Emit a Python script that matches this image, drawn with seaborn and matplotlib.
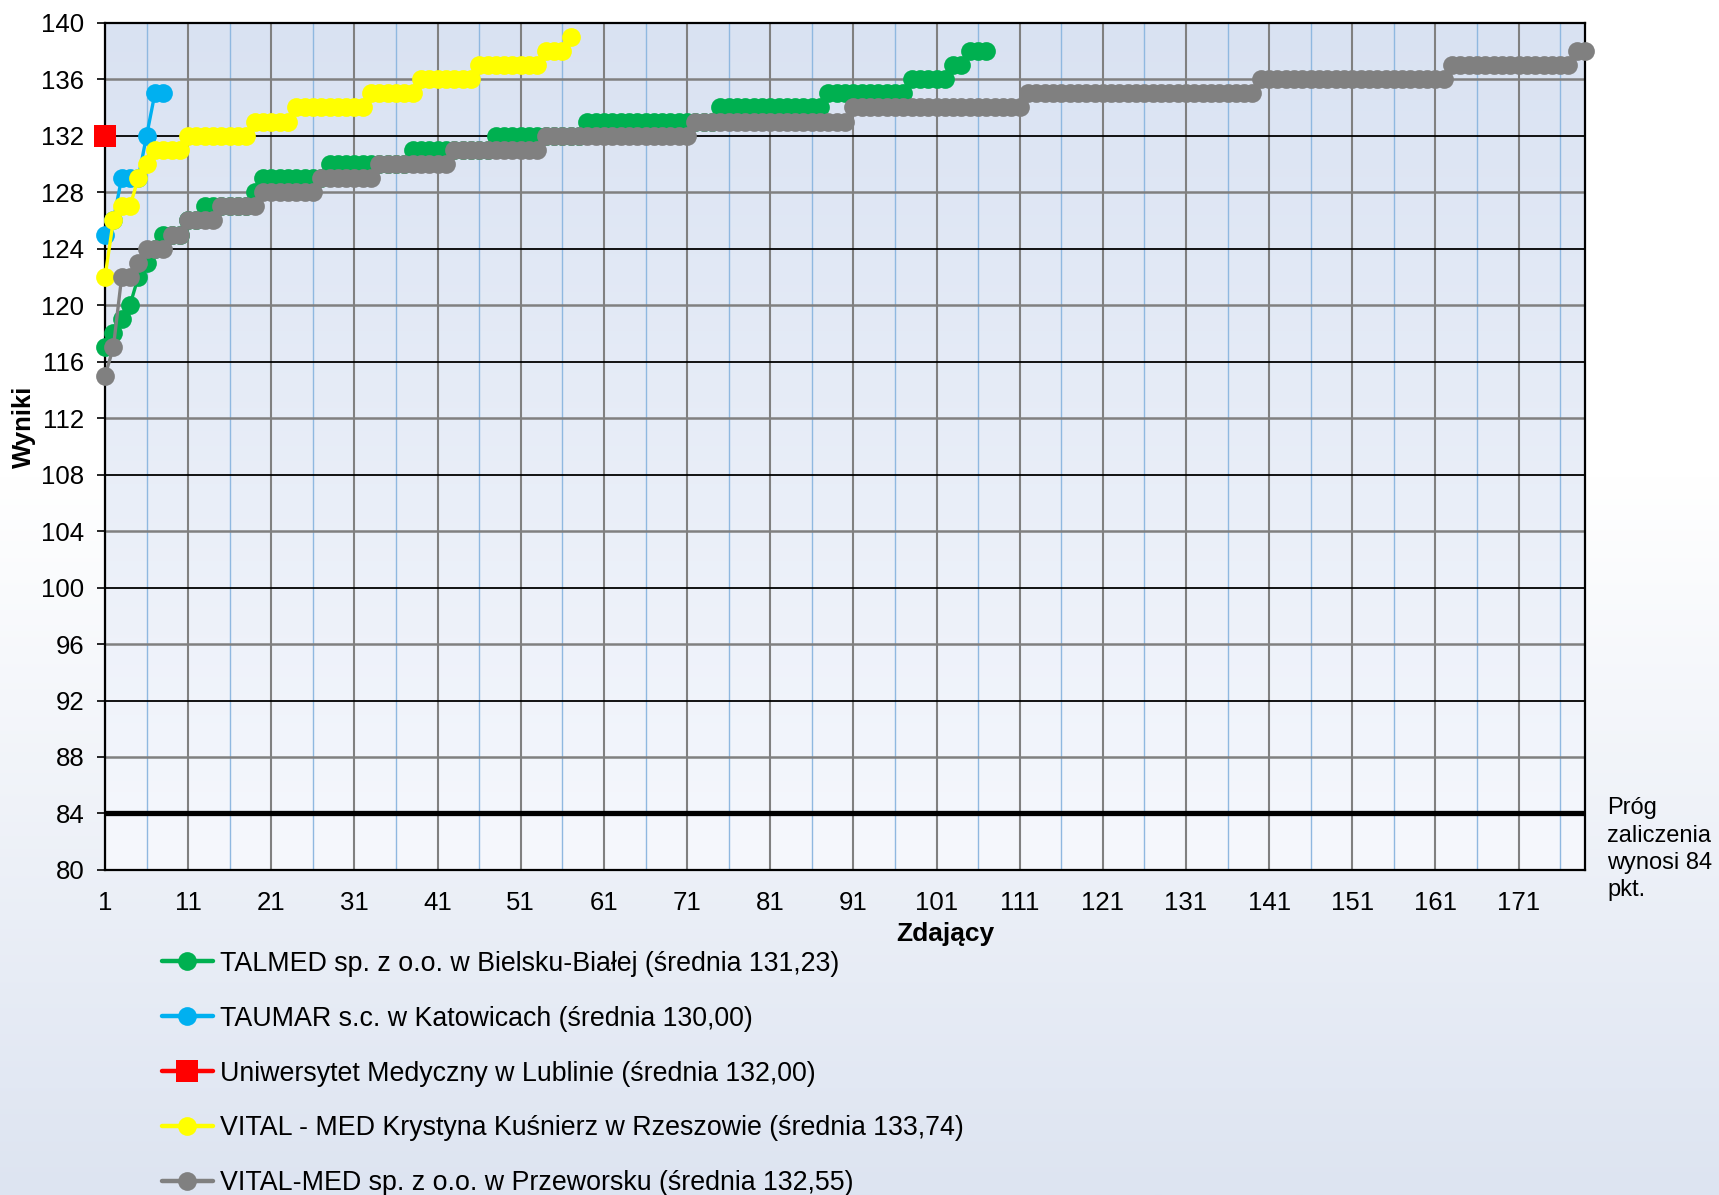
import numpy as np
import pandas as pd
import matplotlib
matplotlib.use("Agg")
import matplotlib.pyplot as plt
import seaborn as sns
from matplotlib.ticker import FixedLocator, FuncFormatter

# Scores (sorted ascending): score level + how many candidates
talmed_levels = [117, 118, 119, 120, 122, 123, 124, 125, 126, 127, 128, 129, 130,
                 131, 132, 133, 134, 135, 136, 137, 138]
talmed_counts = [1, 1, 1, 1, 1, 1, 1, 3, 2, 6, 1, 8, 10, 10, 11, 16, 13, 10, 5, 2, 3]

taumar_scores = [125, 126, 129, 129, 129, 132, 135, 135]

umlub_scores = [132]

vital_rz_levels = [122, 126, 127, 129, 130, 131, 132, 133, 134, 135, 136, 137, 138, 139]
vital_rz_counts = [1, 1, 2, 1, 1, 4, 8, 5, 9, 6, 7, 8, 3, 1]

vital_prz_levels = [115, 117, 122, 123, 124, 125, 126, 127, 128, 129, 130, 131, 132,
                    133, 134, 135, 136, 137, 138]
vital_prz_counts = [1, 1, 2, 1, 3, 2, 4, 5, 7, 7, 9, 11, 18, 19, 21, 28, 23, 15, 2]

series_labels = [
    "TALMED sp. z o.o. w Bielsku-Białej (średnia 131,23)",
    "TAUMAR s.c. w Katowicach (średnia 130,00)",
    "Uniwersytet Medyczny w Lublinie (średnia 132,00)",
    "VITAL - MED Krystyna Kuśnierz w Rzeszowie (średnia 133,74)",
    "VITAL-MED sp. z o.o. w Przeworsku (średnia 132,55)",
]
series_colors = ["#00b050", "#00b0f0", "#ff0000", "#ffff00", "#808080"]
series_markers = ["o", "o", "s", "o", "o"]

threshold = 84
n_max = 179
x_ticks = list(range(1, 172, 10))
y_ticks = list(range(80, 141, 4))


def to_frame(scores):
    return pd.DataFrame({"Zdający": np.arange(1, len(scores) + 1), "Wynik": scores})


frames = [
    to_frame(np.repeat(talmed_levels, talmed_counts)),
    to_frame(taumar_scores),
    to_frame(umlub_scores),
    to_frame(np.repeat(vital_rz_levels, vital_rz_counts)),
    to_frame(np.repeat(vital_prz_levels, vital_prz_counts)),
]

sns.set_style("white")
plt.rcParams["font.family"] = ["Liberation Sans", "DejaVu Sans"]
plt.rcParams["text.color"] = "black"

fig = plt.figure(figsize=(17.19, 11.95), dpi=100)

# figure background: white on top, fading to light blue at the bottom
bg = fig.add_axes([0, 0, 1, 1], zorder=-5)
t = np.linspace(0, 1, 400)[:, None]
w = np.clip((t - 0.40) / 0.60, 0, 1)
bottom_col = np.array([221, 228, 241]) / 255
img = (1 - w)[:, :, None] * np.ones(3) + w[:, :, None] * bottom_col
bg.imshow(img, aspect="auto", extent=[0, 1, 0, 1])
bg.axis("off")

ax = fig.add_axes([0.0611, 0.272, 0.861, 0.709])
ax.set_facecolor("none")

# plot area gradient
top_col = np.array([217, 226, 242]) / 255
low_col = np.array([246, 248, 253]) / 255
t2 = np.linspace(0, 1, 400)[:, None]
img2 = (1 - t2)[:, :, None] * top_col + t2[:, :, None] * low_col
ax.imshow(img2, aspect="auto", extent=[0, 1, 0, 1], transform=ax.transAxes, zorder=-10)

ax.axhline(threshold, color="black", lw=3.8, zorder=2.5)

for df, color, label, mk in zip(frames, series_colors, series_labels, series_markers):
    sns.lineplot(data=df, x="Zdający", y="Wynik", ax=ax, color=color, marker=mk,
                 markersize=16 if mk == "s" else 13.5, markeredgewidth=0,
                 linewidth=2.4, label=label, legend=False, clip_on=False, zorder=3)

ax.set_xlim(1, n_max)
ax.set_ylim(80, 140)

ax.xaxis.set_major_locator(FixedLocator(x_ticks))
ax.xaxis.set_minor_locator(FixedLocator(list(range(6, n_max + 1, 10))))
ax.yaxis.set_major_locator(FixedLocator(y_ticks[1::2]))
ax.yaxis.set_minor_locator(FixedLocator(y_ticks[0::2]))
ax.yaxis.set_minor_formatter(FuncFormatter(lambda v, p: f"{v:.0f}"))

ax.set_axisbelow(True)
ax.xaxis.grid(True, which="major", color="#808080", lw=1.5)
ax.xaxis.grid(True, which="minor", color="#8fb8e0", lw=1.0)
ax.yaxis.grid(True, which="major", color="black", lw=1.3)
ax.yaxis.grid(True, which="minor", color="#808080", lw=1.8)

ax.tick_params(axis="y", which="both", left=True, direction="out", length=6,
               width=1.2, pad=9, labelsize=18.5, colors="black")
ax.tick_params(axis="x", which="both", bottom=False, length=0, pad=15,
               labelsize=18.5, colors="black")
for s in ax.spines.values():
    s.set_color("black")
    s.set_linewidth(1.6)

ax.set_xlabel("")
ax.set_ylabel("")
fig.text(0.014, 0.643, "Wyniki", rotation=90, ha="center", va="center",
         fontsize=18.5, fontweight="bold")
fig.text(0.550, 0.218, "Zdający", ha="center", va="center",
         fontsize=19, fontweight="bold")

fig.text(0.935, 0.333, "Próg\nzaliczenia\nwynosi 84\npkt.", ha="left", va="top",
         fontsize=17, linespacing=1.32)

handles, labels = ax.get_legend_handles_labels()
leg = fig.legend(handles, labels, loc="upper left", bbox_to_anchor=(0.094, 0.2045),
                 frameon=False, fontsize=19.3, handlelength=1.9, handletextpad=0.27,
                 labelspacing=1.08, borderpad=0, borderaxespad=0)
for h in leg.legend_handles:
    h.set_linewidth(3.2)

fig.savefig("out.png", dpi=100)
